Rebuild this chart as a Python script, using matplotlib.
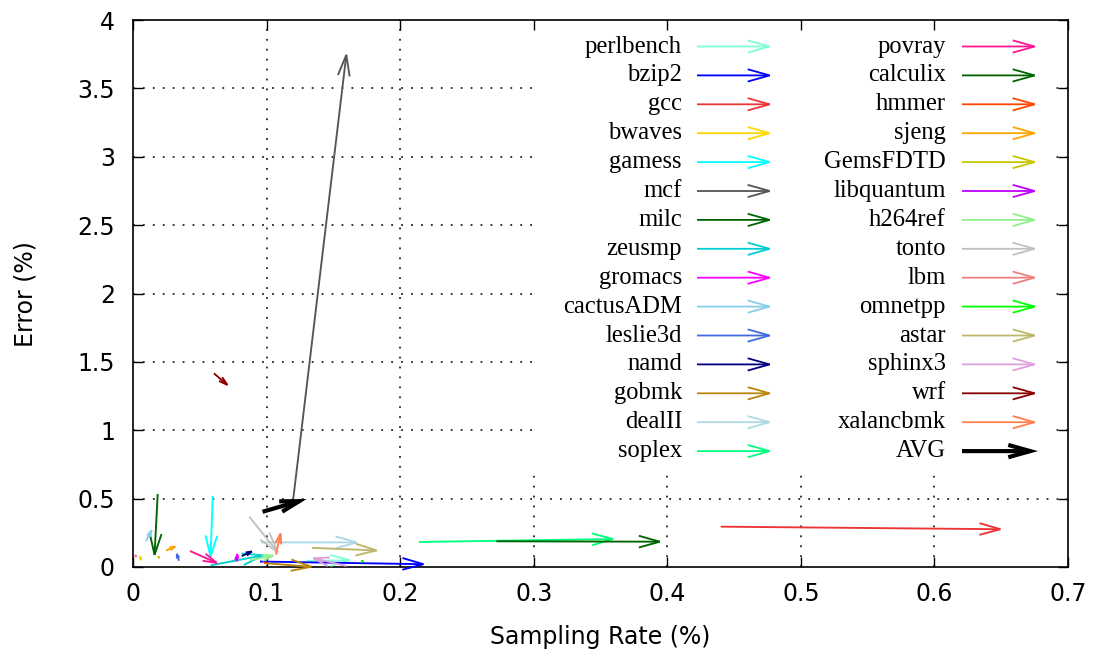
import matplotlib
matplotlib.use("Agg")
import matplotlib.pyplot as plt
from matplotlib.patches import FancyArrowPatch, ArrowStyle, Rectangle
import numpy as np

# ---- data ----
benchmarks = ["perlbench", "bzip2", "gcc", "bwaves", "gamess", "mcf", "milc", "zeusmp",
              "gromacs", "cactusADM", "leslie3d", "namd", "gobmk", "dealII", "soplex",
              "povray", "calculix", "hmmer", "sjeng", "GemsFDTD", "libquantum", "h264ref",
              "tonto", "lbm", "omnetpp", "astar", "sphinx3", "wrf", "xalancbmk", "AVG"]
colors = ["#7fffd4", "#0000ff", "#ee3535", "#ffd700", "#00ffff", "#555555", "#006400", "#00ced1",
          "#ff00ff", "#87ceeb", "#4169e1", "#000080", "#b8860b", "#add8e6", "#00ff7f",
          "#ff1493", "#006400", "#ff4500", "#ffa500", "#c8c800", "#c000ff", "#90ee90",
          "#c0c0c0", "#f08080", "#00ff00", "#bdb76b", "#dda0dd", "#8b0000", "#ff7f50", "#000000"]
# start (sampling rate, error) -> end (sampling rate, error)
x_start = [0.130, 0.095, 0.440, 0.005, 0.0597, 0.120, 0.0185, 0.058,
           0.0780, 0.0097, 0.0344, 0.0814, 0.100, 0.096, 0.214,
           0.0427, 0.272, 0.0990, 0.0247, 0.0190, 0.0770, 0.0876,
           0.087, 0.0020, 0.171, 0.134, 0.160, 0.0606, 0.107, 0.097]
y_start = [0.045, 0.040, 0.295, 0.080, 0.520, 0.500, 0.534, 0.012,
           0.040, 0.190, 0.046, 0.080, 0.027, 0.180, 0.183,
           0.117, 0.188, 0.030, 0.120, 0.071, 0.050, 0.050,
           0.368, 0.080, 0.040, 0.140, 0.007, 1.416, 0.090, 0.404]
x_end = [0.165, 0.220, 0.652, 0.007, 0.058, 0.160, 0.016, 0.100,
         0.0780, 0.0152, 0.0320, 0.0913, 0.136, 0.170, 0.362,
         0.065, 0.397, 0.1020, 0.034, 0.0226, 0.0775, 0.1076,
         0.110, 0.0010, 0.175, 0.185, 0.1325, 0.0726, 0.111, 0.130]
y_end = [0.050, 0.020, 0.276, 0.027, 0.051, 3.770, 0.064, 0.090,
         0.120, 0.290, 0.120, 0.124, 0.000, 0.180, 0.205,
         0.020, 0.185, 0.025, 0.160, 0.080, 0.095, 0.088,
         0.088, 0.110, 0.050, 0.120, 0.070, 1.315, 0.270, 0.497]

x_ticks = [0, 0.1, 0.2, 0.3, 0.4, 0.5, 0.6, 0.7]
x_tick_labels = ["0", "0.1", "0.2", "0.3", "0.4", "0.5", "0.6", "0.7"]
y_ticks = [0, 0.5, 1, 1.5, 2, 2.5, 3, 3.5, 4]
y_tick_labels = ["0", "0.5", "1", "1.5", "2", "2.5", "3", "3.5", "4"]

W, H = 1099, 653
fig = plt.figure(figsize=(W / 100, H / 100), dpi=100)
ax = fig.add_axes([133 / W, 1 - 567 / H, (1068 - 133) / W, (567 - 20) / H])
ax.set_xlim(0, 0.7)
ax.set_ylim(0, 4)
ax.set_xticks(x_ticks)
ax.set_xticklabels(x_tick_labels)
ax.set_yticks(y_ticks)
ax.set_yticklabels(y_tick_labels)
ax.tick_params(direction="in", length=7, width=1, top=True, right=True,
               labelsize=17, colors="black")
ax.tick_params(axis="x", pad=11)
ax.tick_params(axis="y", pad=13)
for s in ax.spines.values():
    s.set_linewidth(1.2)

# grid
for xv in x_ticks[1:-1]:
    ax.plot([xv, xv], [0, 4], linestyle=(0, (1, 4.5)), color="#222222", lw=1.3, zorder=1)
for yv in y_ticks[1:-1]:
    ax.plot([0, 0.7], [yv, yv], linestyle=(0, (1, 4.5)), color="#222222", lw=1.3, zorder=1)

fig.text(600 / W, 1 - 637 / H, "Sampling Rate (%)", fontsize=17, ha="center", va="center")
fig.text(25 / W, 1 - 294 / H, "Error (%)", fontsize=17, ha="center", va="center", rotation=90)

# legend background box (covers grid)
fig.canvas.draw()
pix2ax = ax.transAxes.inverted()
def px_to_axes(px, py):
    # figure pixel coords with origin at top-left
    return pix2ax.transform((px, H - py))

bx0, by0 = px_to_axes(532, 470)
bx1, by1 = px_to_axes(1052, 28)
ax.add_patch(Rectangle((bx0, by0), bx1 - bx0, by1 - by0, transform=ax.transAxes,
                       facecolor="white", edgecolor="none", zorder=1.5))

PT = 72 / 100.0  # points per pixel

def draw_arrow(p0, p1, color, lw, transform, head_px):
    hl = head_px
    hw = head_px * 0.28
    style = ArrowStyle("->", head_length=hl * PT, head_width=hw * PT)
    a = FancyArrowPatch(p0, p1, arrowstyle=style, mutation_scale=1, shrinkA=0, shrinkB=0,
                        color=color, lw=lw, transform=transform, zorder=3,
                        capstyle="butt", joinstyle="miter", clip_on=False)
    ax.add_patch(a)

# data arrows
for i, name in enumerate(benchmarks):
    p0 = (x_start[i], y_start[i])
    p1 = (x_end[i], y_end[i])
    q0 = ax.transData.transform(p0)
    q1 = ax.transData.transform(p1)
    L = np.hypot(*(q1 - q0))
    head = min(21.0, 0.42 * L)
    lw = 3.0 if name == "AVG" else 1.35
    draw_arrow(p0, p1, colors[i], lw, ax.transData, head)

# legend
row0 = 46.5
dy = 28.9
for i, name in enumerate(benchmarks):
    col = i // 15
    r = i % 15
    py = row0 + r * dy
    if col == 0:
        tx, a0, a1 = 682, 697, 773
    else:
        tx, a0, a1 = 946, 962, 1038
    txa = px_to_axes(tx, py)
    ax.text(txa[0], txa[1], name, transform=ax.transAxes, ha="right", va="center",
            fontsize=17.7, family="Liberation Serif", zorder=4)
    lw = 3.0 if name == "AVG" else 1.3
    draw_arrow(tuple(px_to_axes(a0, py)), tuple(px_to_axes(a1, py)), colors[i], lw,
               ax.transAxes, 22.0)

fig.savefig("out.png", dpi=100)
